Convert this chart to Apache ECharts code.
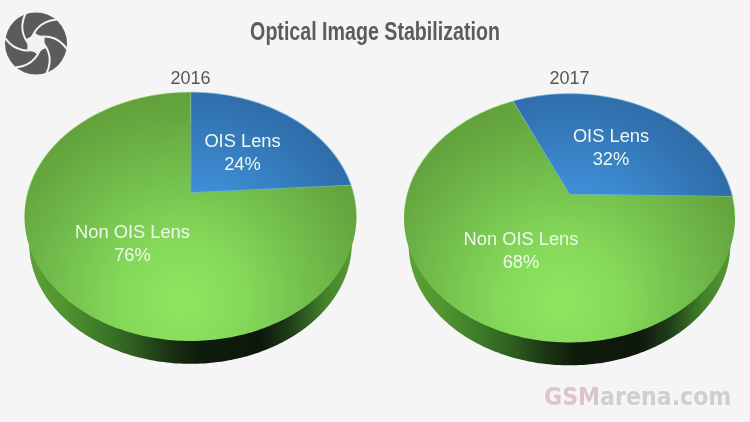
<!DOCTYPE html>
<html><head><meta charset="utf-8">
<style>html,body{margin:0;padding:0;background:#f5f5f5}#c{width:750px;height:422px}</style>
<script src="https://cdn.jsdelivr.net/npm/echarts@6/dist/echarts.min.js"></script>
</head><body><div id="c"></div>
<script>
const chartTitle = 'Optical Image Stabilization';
const years = ['2016', '2017'];
const categories = ['OIS Lens', 'Non OIS Lens'];
const values2016 = [24, 76];
const values2017 = [32, 68];
const startDegrees = [0, -24.2];

// layout (pie perspective and label anchors), separate from the data
const pies = [
  {cx: 190.5, cy: 193, f: 163, g: 120, k: 0.189, labels: [[242.5, 153], [132.5, 244]]},
  {cx: 569.5, cy: 194.5, f: 162.5, g: 120, k: 0.189, labels: [[611, 148], [521, 251]]}
];
const valueSets = [values2016, values2017];

function project(p, deg, dy, scale) {
  const a = deg * Math.PI / 180, X = Math.sin(a), Y = Math.cos(a), w = 1 + p.k * Y;
  const s = scale || 1;
  return [p.cx + s * p.f * X / w, p.cy + (dy || 0) - s * p.g * Y / w];
}
function arc(p, from, to, dy, scale) {
  const pts = [], n = Math.max(2, Math.ceil(Math.abs(to - from)));
  for (let i = 0; i <= n; i++) pts.push(project(p, from + (to - from) * i / n, dy, scale));
  return pts;
}
function radial(x, y, r, stops) {
  return {type: 'radial', x, y, r, global: true,
    colorStops: stops.map(s => ({offset: s[0], color: s[1]}))};
}
function linear(x1, x2, stops) {
  return {type: 'linear', x: x1, y: 0, x2, y2: 0, global: true,
    colorStops: stops.map(s => ({offset: s[0], color: s[1]}))};
}

function makeRender(pieIndex) {
  const p = pies[pieIndex], vals = valueSets[pieIndex], start = startDegrees[pieIndex];
  const total = vals.reduce((a, b) => a + b, 0);
  return function (params, api) {
    const i = params.dataIndex, children = [];
    let before = 0;
    for (let j = 0; j < i; j++) before += vals[j];
    const a0 = start + 360 * before / total, a1 = a0 + 360 * api.value(0) / total;
    const apex = [p.cx, p.cy];
    const rim = arc(p, a0, a1);
    const poly = [apex].concat(rim);
    if (i === 0) {
      children.push({
        type: 'polygon', shape: {points: arc(p, 0, 360, 27, 0.972)},
        style: {fill: linear(p.cx - 158, p.cx + 158, [
          [0, '#5aa036'], [0.1, '#4f9430'], [0.22, '#3c7a28'], [0.33, '#2c5a1e'], [0.43, '#1a3313'],
          [0.52, '#0f1c0c'], [0.72, '#0e170c'], [0.82, '#20401a'], [0.92, '#42802b'], [1, '#559636']])}
      });
    }
    const fill = i === 0
      ? radial(p.cx, p.cy + 70, 210, [[0, '#4aa0ea'], [0.4, '#3d8bd2'], [0.75, '#3172b0'], [1, '#2c659f']])
      : radial(p.cx - 8, p.cy + 108, 235, [[0, '#90e560'], [0.25, '#86da5a'], [0.55, '#72bd4c'], [0.8, '#65a63f'], [1, '#5d9a36']]);
    children.push({type: 'polygon', shape: {points: poly}, style: {fill: fill}});
    // rim highlights only on the far half of the disc, the near edge stays soft
    const rimStroke = {fill: null, lineWidth: 1.2,
      stroke: i === 0 ? 'rgba(140,205,235,0.55)' : 'rgba(185,235,150,0.45)'};
    if (i === 0) {
      children.push({type: 'polyline', shape: {points: rim}, style: rimStroke});
      children.push({type: 'polyline', shape: {points: [rim[0], apex, rim[rim.length - 1]]}, style: {
        fill: null, lineWidth: 1.4, stroke: 'rgba(130,205,210,0.75)'}});
    } else {
      children.push({type: 'polyline', shape: {points: arc(p, a0, 100)}, style: rimStroke});
      children.push({type: 'polyline', shape: {points: arc(p, 265, a1)}, style: rimStroke});
    }
    const L = p.labels[i];
    children.push({type: 'text', style: {
      x: L[0], y: L[1], text: categories[i] + '\n' + api.value(0) + '%',
      fill: '#eef8ec', font: '18.3px "Liberation Sans", Arial, sans-serif',
      align: 'center', verticalAlign: 'middle', lineHeight: 23}, z2: 10});
    return {type: 'group', children};
  };
}

const rots = [0, 1, 2, 3, 4, 5].map(n => n * Math.PI / 3);
function blade(rot) {
  return {type: 'bezierCurve', x: 36, y: 43.5, rotation: rot, silent: true,
    shape: {x1: -10.5, y1: -30, cpx1: -18, cpy1: -14, cpx2: -12, cpy2: -2, x2: 1.5, y2: 10},
    style: {fill: null, stroke: '#f2f2f2', lineWidth: 2}};
}
const hexPoints = rots.map(r => [36 + 1.5 * Math.cos(r) + 10 * Math.sin(r), 43.5 - 1.5 * Math.sin(r) + 10 * Math.cos(r)]);
const yearFont = {fontFamily: '"Liberation Sans", sans-serif', fontWeight: 'normal', fontSize: 18, color: '#555'};

const chart = echarts.init(document.getElementById('c'), null, {renderer: 'canvas'});
chart.setOption({
  animation: false,
  backgroundColor: '#f5f5f5',
  title: [
    {text: years[0], left: pies[0].cx - 5, top: 65, textAlign: 'center', textStyle: yearFont},
    {text: years[1], left: pies[1].cx - 5, top: 65, textAlign: 'center', textStyle: yearFont}
  ],
  graphic: {elements: [
    {type: 'circle', shape: {cx: 36, cy: 43.5, r: 31}, style: {fill: '#5b5b5b'}, silent: true}
  ].concat(rots.map(blade)).concat([
    {type: 'polygon', shape: {points: hexPoints}, style: {fill: '#f2f2f2'}, silent: true},
    {type: 'text', x: 375, y: 32.5, scaleX: 0.755, silent: true, style: {
      text: chartTitle, x: 0, y: 0, align: 'center', verticalAlign: 'middle',
      font: 'bold 26px "Liberation Sans", sans-serif', fill: '#5c5c5c'}},
    {type: 'text', x: 544, y: 398, scaleX: 0.885, silent: true, style: {
      text: '{a|GSM}{b|arena.com}', x: 0, y: 0, align: 'left', verticalAlign: 'middle',
      rich: {
        a: {font: 'bold 25px "DejaVu Sans"', fill: '#dcc5ca'},
        b: {font: 'bold 25px "DejaVu Sans"', fill: '#cfcfcf'}
      }}}
  ])},
  series: valueSets.map((vals, n) => ({
    type: 'custom', coordinateSystem: 'none', silent: true,
    data: vals.map(v => [v]), renderItem: makeRender(n)
  }))
});
</script></body></html>
